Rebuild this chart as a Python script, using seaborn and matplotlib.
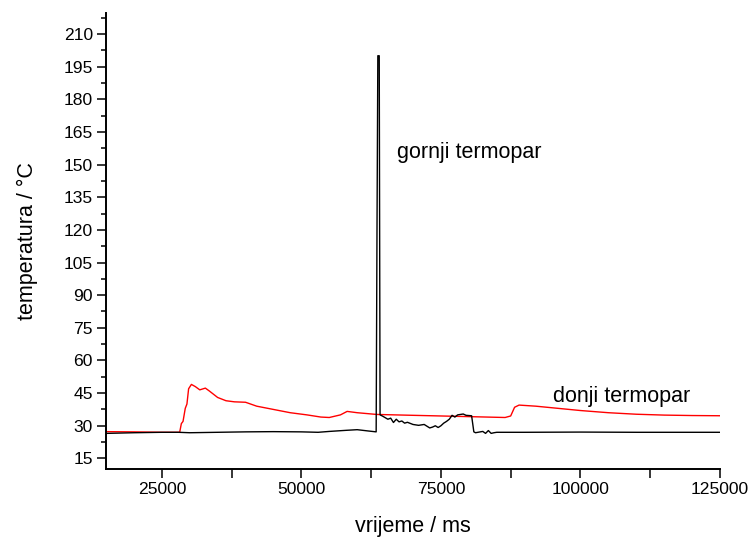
import numpy as np
import pandas as pd
import matplotlib
matplotlib.use("Agg")
import matplotlib.pyplot as plt
import seaborn as sns

# Upper thermocouple (gornji termopar): time in ms, temperature in °C
gornji_t = [15000, 20000, 25000, 28000, 30000, 35000, 40000, 45000, 50000, 53000,
            55000, 58000, 60000, 62000, 63400, 63550, 63700, 63950, 64100, 64500,
            65500, 66000, 66500, 67000, 67500, 68000, 68500, 69000, 70000, 71000,
            72000, 73000, 73500, 74000, 74500, 75000, 75500, 76000, 76500, 77000,
            77500, 78000, 79000, 79500, 80500, 80900, 81200, 82500, 83000, 83500,
            84000, 84500, 85000, 86000, 90000, 100000, 110000, 120000, 125000]
gornji_T = [26.5, 26.8, 27.0, 27.0, 26.8, 27.0, 27.2, 27.3, 27.2, 27.0,
            27.4, 27.9, 28.2, 27.6, 27.2, 120.0, 200.0, 200.0, 35.0, 34.5,
            33.0, 33.5, 31.5, 33.0, 31.8, 32.2, 31.2, 31.6, 30.6, 30.2,
            30.6, 29.0, 29.4, 30.0, 29.2, 30.0, 31.2, 32.0, 33.0, 34.8,
            34.0, 35.0, 35.4, 34.8, 34.6, 27.2, 26.8, 27.4, 26.5, 27.8,
            26.5, 26.8, 27.0, 27.0, 27.0, 27.1, 27.0, 27.0, 27.0]

# Lower thermocouple (donji termopar)
donji_t = [15000, 20000, 25000, 28200, 28500, 28800, 29200, 29500, 29800, 30300,
           31000, 31800, 32800, 33500, 35000, 36500, 38000, 40000, 42000, 45000,
           48000, 51000, 53500, 55000, 57000, 58200, 60000, 63500, 70000, 75000,
           80000, 86500, 87500, 88200, 89000, 92000, 96000, 100000, 105000, 110000,
           115000, 120000, 125000]
donji_T = [27.3, 27.2, 27.0, 27.0, 31.0, 32.0, 38.0, 40.0, 47.0, 49.0,
           48.0, 46.5, 47.3, 46.0, 43.0, 41.5, 41.0, 40.8, 39.0, 37.5,
           36.0, 35.0, 34.0, 33.8, 35.0, 36.6, 36.0, 35.2, 34.8, 34.5,
           34.2, 33.8, 34.5, 38.5, 39.5, 39.0, 38.0, 37.0, 36.0, 35.3,
           34.9, 34.7, 34.6]

y_ticks = list(range(15, 211, 15))
x_ticks = [25000, 50000, 75000, 100000, 125000]

sns.set_theme(style="ticks")
plt.rcParams["font.family"] = ["Liberation Sans", "DejaVu Sans"]
plt.rcParams["text.color"] = "black"
plt.rcParams["axes.labelcolor"] = "black"

fig = plt.figure(figsize=(7.53, 5.39), dpi=100)
ax = fig.add_axes([106 / 753, (539 - 469.3) / 539, 614 / 753, 456 / 539])

gornji = pd.DataFrame({"t": gornji_t, "T": gornji_T})
donji = pd.DataFrame({"t": donji_t, "T": donji_T})

sns.lineplot(data=donji, x="t", y="T", ax=ax, color="#ff0000", lw=1.0,
             estimator=None, sort=False)
sns.lineplot(data=gornji, x="t", y="T", ax=ax, color="black", lw=1.0,
             estimator=None, sort=False)

ax.set_xlim(15000, 125000)
ax.set_ylim(10, 219.5)

x_all = np.arange(25000, 125001, 12500)
ax.set_xticks(x_all)
ax.set_xticklabels([str(v) if v in x_ticks else "" for v in x_all])
ax.set_yticks(y_ticks)
ax.set_yticks(np.arange(22.5, 219, 15), minor=True)

ax.tick_params(axis="both", which="major", direction="out", length=6.5, width=1.1,
               color="black", labelsize=12.6, labelcolor="black", pad=3)
ax.tick_params(axis="y", which="minor", direction="out", length=3.8, width=1.1,
               color="black")
ax.tick_params(axis="x", which="minor", length=0)

for side in ("top", "right"):
    ax.spines[side].set_visible(False)
for side in ("left", "bottom"):
    ax.spines[side].set_linewidth(1.4)
    ax.spines[side].set_color("black")

ax.set_xlabel("vrijeme / ms", fontsize=15.5, labelpad=13, color="black")
ax.set_ylabel("temperatura / °C", fontsize=15.5, labelpad=18, color="black")

ax.text(67150, 153, "gornji termopar", fontsize=15.5, va="baseline", ha="left",
        color="black")
ax.text(95100, 40.7, "donji termopar", fontsize=15.5, va="baseline", ha="left",
        color="black")

fig.savefig("out.png", dpi=100)
